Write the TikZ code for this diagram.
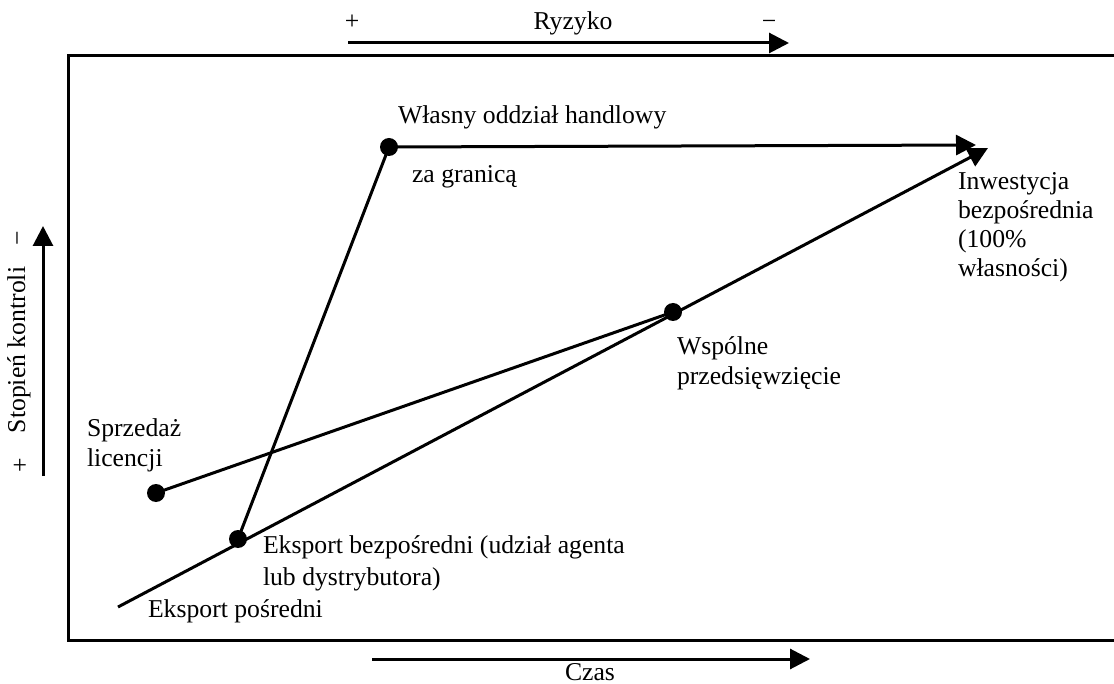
\documentclass[tikz,border=0pt]{standalone}
\usepackage{fontspec}
\setmainfont{Liberation Serif}
\usetikzlibrary{arrows.meta}
\begin{document}
\begin{tikzpicture}[x=1pt,y=-1pt,
  every node/.style={inner sep=0pt,outer sep=0pt,font=\fontsize{25.7}{30}\selectfont},
  lbl/.style={anchor=base west,align=left},
  conn/.style={line width=3pt},
  arr/.style={line width=3pt,-{Triangle[length=20pt,width=20pt]}},
  dot/.style={circle,fill=black,minimum size=18pt}]
\useasboundingbox (0,0) rectangle (1114,684);
\draw[line width=3pt] (1130,56) -- (68,56) -- (68,640) -- (1130,640);
% axes
\coordinate (rs) at (348,43); \coordinate (re) at (789,43);
\draw[arr] (rs) -- (re);
\node[anchor=base] (rp) at (352,30) {+};
\node[anchor=base] (rl) at (573,30) {Ryzyko};
\node[anchor=base] (rm) at (769,30) {−};
\coordinate (ks) at (43,476); \coordinate (ke) at (43,226);
\draw[arr] (ks) -- (ke);
\node[rotate=90] (kp) at (21,465) {+};
\node[rotate=90] (kl) at (19,350) {Stopień kontroli};
\node[rotate=90] (km) at (21,238) {−};
\coordinate (cs) at (372,659); \coordinate (ce) at (810,659);
\draw[arr] (cs) -- (ce);
\node[anchor=base] (cz) at (590,680) {Czas};
% points
\node[dot] (wl) at (389,147) {};
\node[dot] (sp) at (156,493) {};
\node[dot] (eb) at (238,539) {};
\node[dot] (ws) at (673,312) {};
\coordinate (ep) at (118,607);
\coordinate (t1) at (976,145);
\coordinate (t2) at (988,148);
\draw[conn] (eb.center) -- (wl.center);
\draw[arr] (wl.center) -- (t1);
\draw[conn] (sp.center) -- (ws.center);
\draw[arr] (ep) -- (t2);
% labels (base = baseline of last line)
\node[lbl] (l1) at (398,124) {Własny oddział handlowy};
\node[lbl] (l2) at (412,183) {za granicą};
\node[lbl,font=\fontsize{25.7}{29}\selectfont] (l3) at (958,277) {Inwestycja\\bezpośrednia\\(100\%\\własności)};
\node[lbl] (l4) at (677,385) {Wspólne\\przedsięwzięcie};
\node[lbl] (l5) at (87,467) {Sprzedaż\\licencji};
\node[lbl,font=\fontsize{25.7}{32}\selectfont] (l6) at (263,585) {Eksport bezpośredni (udział agenta\\lub dystrybutora)};
\node[lbl] (l7) at (148,617) {Eksport pośredni};
\end{tikzpicture}
\end{document}
